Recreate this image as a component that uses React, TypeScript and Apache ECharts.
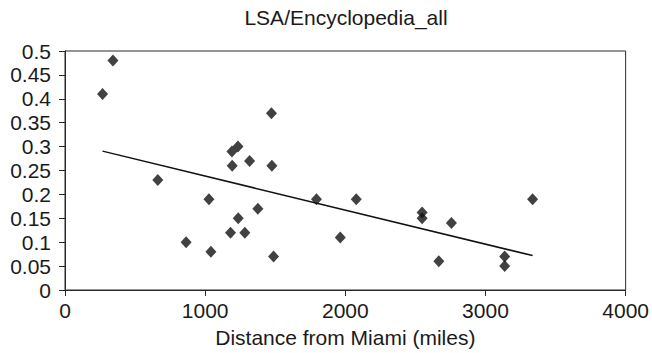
import React, { useEffect, useRef } from "react";
import * as echarts from "echarts";

const distances = [268, 342, 662, 1191, 1234, 1193, 1317, 1473, 1476, 1027, 864, 1041, 1181, 1236, 1283, 1376, 1488, 1794, 2078, 1964, 2548, 2548, 2757, 2667, 3137, 3137, 3336];
const scores = [0.41, 0.48, 0.23, 0.29, 0.30, 0.26, 0.27, 0.37, 0.26, 0.19, 0.10, 0.08, 0.12, 0.15, 0.12, 0.17, 0.07, 0.19, 0.19, 0.11, 0.162, 0.15, 0.14, 0.06, 0.07, 0.05, 0.19];

const titleText = "LSA/Encyclopedia_all";
const xAxisName = "Distance from Miami (miles)";

function linearFit(xs: number[], ys: number[]) {
  const n = xs.length;
  const mx = xs.reduce((a, b) => a + b, 0) / n;
  const my = ys.reduce((a, b) => a + b, 0) / n;
  let sxy = 0;
  let sxx = 0;
  for (let i = 0; i < n; i++) {
    sxy += (xs[i] - mx) * (ys[i] - my);
    sxx += (xs[i] - mx) * (xs[i] - mx);
  }
  const slope = sxy / sxx;
  return { slope, intercept: my - slope * mx };
}

export default function App() {
  const ref = useRef<HTMLDivElement>(null);
  useEffect(() => {
    if (!ref.current) return;
    const chart = echarts.init(ref.current, undefined, { renderer: "svg" });
    const fit = linearFit(distances, scores);
    const xMin = Math.min(...distances);
    const xMax = Math.max(...distances);
    const trend = [
      [xMin, fit.intercept + fit.slope * xMin],
      [xMax, fit.intercept + fit.slope * xMax],
    ];
    const font = "Liberation Sans, Arial, Helvetica, sans-serif";
    const fs = 21;
    chart.setOption({
      animation: false,
      backgroundColor: "#ffffff",
      title: {
        text: titleText,
        left: 346,
        textAlign: "center",
        top: 7,
        padding: 0,
        textStyle: { fontFamily: font, fontSize: fs, fontWeight: "normal", color: "#1a1a1a" },
      },
      grid: {
        left: 65,
        right: 25,
        top: 51,
        bottom: 62,
        show: true,
        borderColor: "#2a2a2a",
        borderWidth: 1,
        containLabel: false,
      },
      xAxis: {
        type: "value",
        min: 0,
        max: 4000,
        interval: 1000,
        name: xAxisName,
        nameLocation: "middle",
        nameGap: 37,
        nameTextStyle: { fontFamily: font, fontSize: fs, color: "#1a1a1a" },
        axisLine: { show: true, onZero: false, lineStyle: { color: "#2a2a2a", width: 1 } },
        axisTick: { show: true, length: 6, lineStyle: { color: "#2a2a2a" } },
        axisLabel: {
          margin: 10,
          fontFamily: font,
          fontSize: fs,
          color: "#1a1a1a",
          formatter: (v: number) => String(v),
        },
        splitLine: { show: false },
      },
      yAxis: {
        type: "value",
        min: 0,
        max: 0.5,
        interval: 0.05,
        axisLine: { show: true, onZero: false, lineStyle: { color: "#2a2a2a", width: 1 } },
        axisTick: { show: true, length: 6, lineStyle: { color: "#2a2a2a" } },
        axisLabel: {
          margin: 14,
          fontFamily: font,
          fontSize: fs,
          color: "#1a1a1a",
          formatter: (v: number) => String(Math.round(v * 100) / 100),
        },
        splitLine: { show: false },
      },
      series: [
        {
          type: "line",
          data: trend,
          symbol: "none",
          lineStyle: { color: "#111", width: 1.5 },
          z: 2,
        },
        {
          type: "scatter",
          data: distances.map((d, i) => [d, scores[i]]),
          symbol: "diamond",
          symbolSize: [11, 12],
          itemStyle: { color: "#111" },
          z: 3,
        },
      ],
    });
    return () => chart.dispose();
  }, []);
  return (
    <div
      ref={ref}
      style={{ position: "fixed", left: 0, top: 0, width: 652, height: 353 }}
    />
  );
}
